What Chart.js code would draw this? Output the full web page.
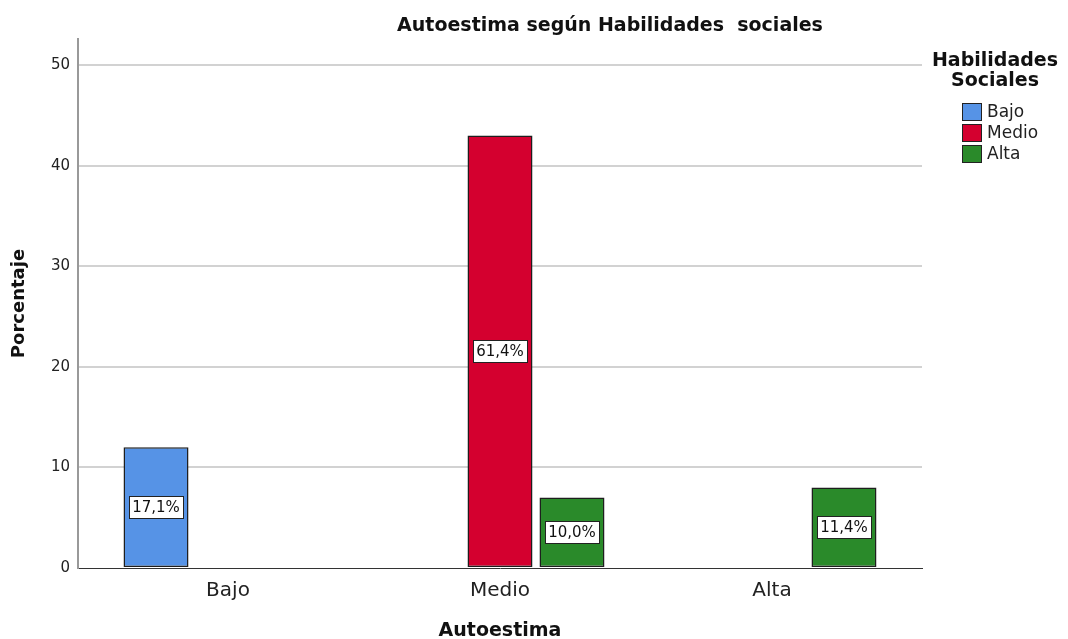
<!DOCTYPE html>
<html>
<head>
<meta charset="utf-8">
<script src="https://cdn.jsdelivr.net/npm/chart.js@4/dist/chart.umd.min.js"></script>
<style>
  body { margin: 0; background: #fff; }
  canvas { display: block; }
</style>
</head>
<body>
<canvas id="autoestimaChart" width="1068" height="639"></canvas>
<script>
// datos (recuentos; las etiquetas muestran % del total)
var categorias = ["Bajo", "Medio", "Alta"];
var serieBajo = [12, null, null];
var serieMedio = [null, 43, null];
var serieAlta = [null, 7, 8];
var tituloLeyenda = ["Habilidades", "Sociales"];
var marcasY = [0, 10, 20, 30, 40, 50];

var FONT = "'DejaVu Sans', sans-serif";
Chart.defaults.font.family = FONT;
Chart.defaults.color = "#222";

var total = serieBajo.concat(serieMedio, serieAlta).reduce(function (a, v) {
  return a + (v || 0);
}, 0);

// titulo del grafico (SPSS lo centra fuera del area de trazado)
var tituloPlugin = {
  id: "tituloSpss",
  afterDraw: function (chart) {
    var ctx = chart.ctx;
    ctx.save();
    ctx.font = "bold 19px " + FONT;
    ctx.fillStyle = "#111";
    ctx.textAlign = "center";
    ctx.textBaseline = "middle";
    ctx.fillText("Autoestima según Habilidades  sociales", 610, 26);
    ctx.restore();
  },
};

// etiquetas de porcentaje en el centro de cada barra
var etiquetasPlugin = {
  id: "etiquetasPct",
  afterDatasetsDraw: function (chart) {
    var ctx = chart.ctx;
    ctx.save();
    ctx.font = "15px " + FONT;
    ctx.textAlign = "center";
    ctx.textBaseline = "middle";
    chart.data.datasets.forEach(function (ds, i) {
      var meta = chart.getDatasetMeta(i);
      meta.data.forEach(function (bar, j) {
        var v = ds.data[j];
        if (v === null || v === undefined) return;
        var txt = ((v / total) * 100).toFixed(1).replace(".", ",") + "%";
        var y = (bar.y + bar.base) / 2;
        var w = Math.round(ctx.measureText(txt).width + 6);
        var h = 22;
        var bx = Math.round(bar.x - w / 2) + 0.5;
        var by = Math.round(y - h / 2) + 0.5;
        ctx.fillStyle = "#fff";
        ctx.fillRect(bx, by, w, h);
        ctx.strokeStyle = "#222";
        ctx.lineWidth = 1;
        ctx.strokeRect(bx, by, w, h);
        ctx.fillStyle = "#111";
        ctx.fillText(txt, bar.x, y + 1);
      });
    });
    ctx.restore();
  },
};

// leyenda a la derecha
var leyendaPlugin = {
  id: "leyendaSpss",
  afterDraw: function (chart) {
    var ctx = chart.ctx;
    ctx.save();
    ctx.font = "bold 19px " + FONT;
    ctx.fillStyle = "#111";
    ctx.textAlign = "center";
    ctx.textBaseline = "middle";
    tituloLeyenda.forEach(function (t, k) {
      ctx.fillText(t, 995, 61 + k * 20);
    });
    ctx.font = "17px " + FONT;
    ctx.textAlign = "left";
    chart.data.datasets.forEach(function (ds, i) {
      var cy = 112 + i * 21;
      ctx.fillStyle = ds.backgroundColor;
      ctx.fillRect(962.5, cy - 8.5, 19, 17);
      ctx.strokeStyle = "#222";
      ctx.lineWidth = 1;
      ctx.strokeRect(962.5, cy - 8.5, 19, 17);
      ctx.fillStyle = "#222";
      ctx.fillText(ds.label, 987, cy + 1);
    });
    ctx.restore();
  },
};

var ctx = document.getElementById("autoestimaChart").getContext("2d");
var chart = new Chart(ctx, {
  type: "bar",
  data: {
    labels: categorias,
    datasets: [
      { label: "Bajo", data: serieBajo, backgroundColor: "#5693E6", borderColor: "#1e1e1e" },
      { label: "Medio", data: serieMedio, backgroundColor: "#D4002F", borderColor: "#1e1e1e" },
      { label: "Alta", data: serieAlta, backgroundColor: "#2A8A2A", borderColor: "#1e1e1e" },
    ],
  },
  options: {
    responsive: false,
    devicePixelRatio: 1,
    animation: false,
    layout: { padding: { top: 39, right: 146, bottom: 0, left: 0 } },
    datasets: {
      bar: {
        borderWidth: 1.5,
        borderSkipped: false,
        categoryPercentage: 0.794,
        barPercentage: 0.903,
      },
    },
    plugins: {
      legend: { display: false },
      tooltip: { enabled: false },
      title: { display: false },
    },
    scales: {
      x: {
        grid: { display: false, drawTicks: false },
        border: { display: true, color: "#333", width: 1 },
        ticks: { padding: 11, font: { size: 20 }, color: "#222" },
        title: {
          display: true,
          text: "Autoestima",
          font: { size: 19, weight: "bold", lineHeight: 1 },
          color: "#111",
          padding: { top: 0, bottom: -2 },
        },
        afterBuildTicks: function (scale) {
          // SPSS deja algo mas de margen a los lados que la mitad de una categoria
          scale._startValue = -0.5515;
          scale._valueRange = 3.103;
        },
        afterFit: function (scale) {
          scale.height = 71;
        },
      },
      y: {
        min: 0,
        max: 52.6,
        grid: {
          drawTicks: false,
          lineWidth: 2,
          color: function (c) {
            return c.tick && c.tick.value === 0 ? "rgba(0,0,0,0)" : "#d2d2d2";
          },
        },
        border: { display: true, color: "#999", width: 2 },
        ticks: { padding: 8, font: { size: 15 }, color: "#222" },
        afterBuildTicks: function (scale) {
          scale.ticks = marcasY.map(function (v) {
            return { value: v };
          });
        },
        title: {
          display: true,
          text: "Porcentaje",
          font: { size: 18, weight: "bold" },
          color: "#111",
          padding: { top: 9, bottom: 0 },
        },
        afterFit: function (scale) {
          scale.width = 78;
        },
      },
    },
  },
  plugins: [tituloPlugin, etiquetasPlugin, leyendaPlugin],
});
</script>
</body>
</html>
